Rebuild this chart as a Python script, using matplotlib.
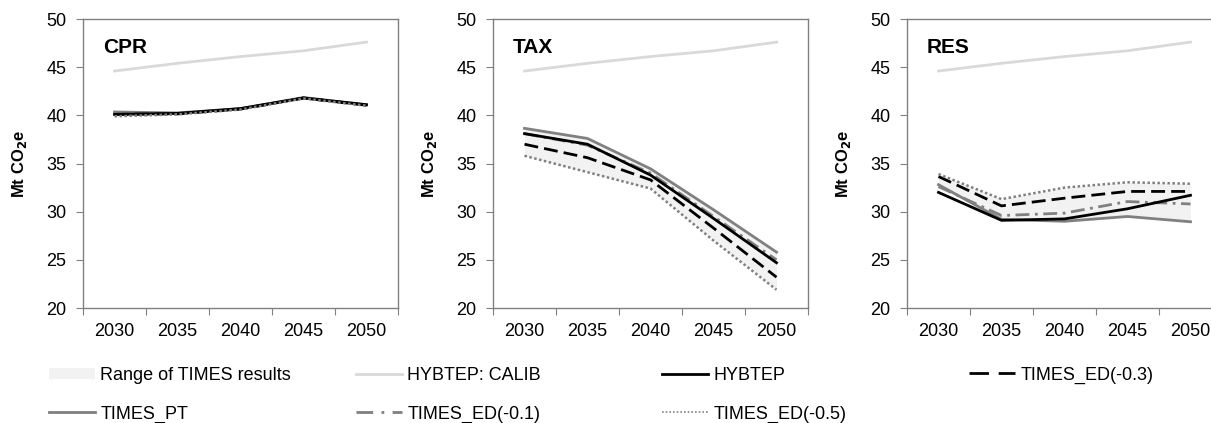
import matplotlib
matplotlib.use('Agg')
import matplotlib.pyplot as plt
from matplotlib.lines import Line2D
from matplotlib.patches import Patch
import numpy as np

plt.rcParams['font.family'] = ['Liberation Sans', 'DejaVu Sans']

# data
years = ['2030', '2035', '2040', '2045', '2050']
panels = ['CPR', 'TAX', 'RES']

calib = [44.6, 45.4, 46.1, 46.7, 47.6]

hybtep = {'CPR': [40.1, 40.2, 40.7, 41.8, 41.1],
          'TAX': [38.1, 37.0, 33.8, 29.3, 24.7],
          'RES': [32.0, 29.1, 29.25, 30.3, 31.7]}
times_pt = {'CPR': [40.35, 40.25, 40.7, 41.85, 41.1],
            'TAX': [38.65, 37.6, 34.45, 30.2, 25.8],
            'RES': [32.8, 29.2, 29.0, 29.5, 28.95]}
ed_01 = {'CPR': [40.2, 40.2, 40.65, 41.8, 41.05],
         'TAX': [38.1, 36.9, 34.0, 29.5, 25.0],
         'RES': [32.6, 29.6, 29.85, 31.05, 30.8]}
ed_03 = {'CPR': [40.1, 40.15, 40.65, 41.8, 41.05],
         'TAX': [37.0, 35.6, 33.3, 28.3, 23.2],
         'RES': [33.65, 30.6, 31.4, 32.1, 32.1]}
ed_05 = {'CPR': [39.9, 40.1, 40.6, 41.75, 41.0],
         'TAX': [35.8, 34.1, 32.4, 27.0, 21.9],
         'RES': [33.9, 31.3, 32.5, 33.05, 32.9]}

W, H = 1211, 423
fig = plt.figure(figsize=(W / 100, H / 100), dpi=100)

lefts = [83, 493, 907]
axw, bot, top = 315, 308, 19

grey = '#808080'
x = np.arange(len(years))

for name, l in zip(panels, lefts):
    ax = fig.add_axes([l / W, 1 - bot / H, axw / W, (bot - top) / H])
    times = np.array([times_pt[name], ed_01[name], ed_03[name], ed_05[name]])
    ax.fill_between(x, times.min(axis=0), times.max(axis=0), color='#f2f2f2', lw=0)
    ax.plot(x, calib, color='#d9d9d9', lw=2)
    ax.plot(x, times_pt[name], color=grey, lw=2)
    ax.plot(x, ed_01[name], color=grey, lw=2, dashes=(5, 2, 1, 2))
    ax.plot(x, hybtep[name], color='black', lw=2)
    ax.plot(x, ed_03[name], color='black', lw=2, dashes=(5, 2.2))
    ax.plot(x, ed_05[name], color=grey, lw=1.8, dashes=(1, 1))

    ax.set_xlim(-0.5, 4.5)
    ax.set_ylim(20, 50)
    ax.set_yticks(range(20, 51, 5))
    ax.set_xticks(np.arange(-0.5, 5, 1))
    ax.set_xticklabels([])
    ax.set_xticks(x, minor=True)
    ax.set_xticklabels(years, minor=True)
    ax.tick_params(axis='x', which='major', length=5, color=grey, direction='out')
    ax.tick_params(axis='x', which='minor', length=0, pad=11, labelsize=13)
    ax.tick_params(axis='y', length=5, color=grey, labelsize=13, pad=7)
    for s in ax.spines.values():
        s.set_color(grey)
        s.set_linewidth(1)
    ax.set_ylabel('Mt CO$_\\mathbf{2}$e', fontsize=12, fontweight='bold')
    ax.yaxis.set_label_coords(-54 / axw, 0.5)
    ax.text(20 / axw, 0.9, name, transform=ax.transAxes, fontsize=15,
            fontweight='bold', va='center', ha='left')

# legend entries, laid out like the Excel legend
entries = [
    (Patch(facecolor='#f2f2f2', edgecolor='none'), 'Range of TIMES results', 49, 375),
    (Line2D([], [], color='#d9d9d9', lw=2), 'HYBTEP: CALIB', 356, 375),
    (Line2D([], [], color='black', lw=2), 'HYBTEP', 662, 375),
    (Line2D([], [], color='black', lw=2, dashes=(7, 3.5)), 'TIMES_ED(-0.3)', 969, 375),
    (Line2D([], [], color=grey, lw=2), 'TIMES_PT', 49, 414),
    (Line2D([], [], color=grey, lw=2, dashes=(6, 3, 1, 3)), 'TIMES_ED(-0.1)', 356, 414),
    (Line2D([], [], color=grey, lw=1.2, dashes=(1, 1.2)), 'TIMES_ED(-0.5)', 662, 414),
]
for h, lab, px, py in entries:
    fig.legend(handles=[h], labels=[lab], loc='center left',
               bbox_to_anchor=(px / W, 1 - py / H), frameon=False,
               fontsize=13, handlelength=2.55, handletextpad=0.3,
               borderpad=0, borderaxespad=0, handleheight=0.56)

fig.savefig('out.png', dpi=100)
